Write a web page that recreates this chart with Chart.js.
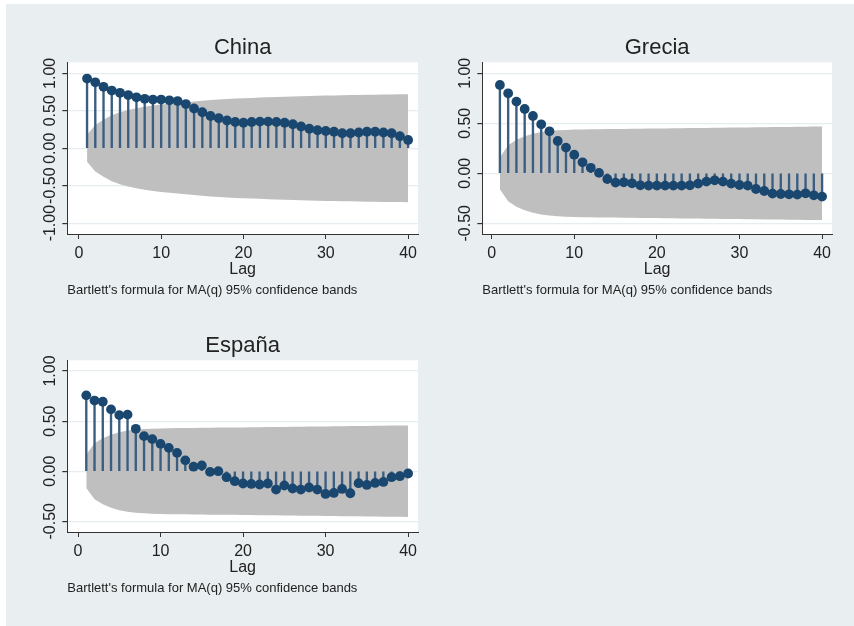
<!DOCTYPE html>
<html>
<head>
<meta charset="utf-8">
<script src="https://cdn.jsdelivr.net/npm/chart.js@4.4.1/dist/chart.umd.min.js"></script>
<style>
    html, body { margin: 0; padding: 0; background: #ffffff; }
    #fondo { position: absolute; left: 6px; top: 4px; width: 848px; height: 622px; background: #e9eef1; }
    canvas { position: absolute; }
</style>
</head>
<body>
<div id="fondo"></div>
<canvas id="chinaChart" width="430" height="290" style="left:10px;top:20px"></canvas>
<canvas id="greciaChart" width="414" height="290" style="left:440px;top:20px"></canvas>
<canvas id="espanaChart" width="430" height="290" style="left:10px;top:318px"></canvas>
<script>
// Retardos (lags) del correlograma
const lags = [1, 2, 3, 4, 5, 6, 7, 8, 9, 10, 11, 12, 13, 14, 15, 16, 17, 18, 19, 20,
              21, 22, 23, 24, 25, 26, 27, 28, 29, 30, 31, 32, 33, 34, 35, 36, 37, 38, 39, 40];
const xTicks = [0, 10, 20, 30, 40];

// Autocorrelaciones y bandas de confianza (Bartlett, 95%)
const chinaAcf = [0.93, 0.88, 0.82, 0.77, 0.74, 0.71, 0.68, 0.66, 0.65, 0.65,
                  0.64, 0.63, 0.59, 0.53, 0.48, 0.43, 0.40, 0.37, 0.35, 0.34,
                  0.35, 0.355, 0.355, 0.35, 0.34, 0.32, 0.29, 0.26, 0.24, 0.23,
                  0.22, 0.20, 0.20, 0.21, 0.22, 0.22, 0.21, 0.20, 0.16, 0.11];
const chinaBand = [0.18, 0.31, 0.38, 0.44, 0.48, 0.51, 0.535, 0.555, 0.57, 0.585,
                   0.595, 0.605, 0.615, 0.625, 0.635, 0.645, 0.652, 0.658, 0.663, 0.667,
                   0.672, 0.676, 0.68, 0.684, 0.688, 0.692, 0.695, 0.698, 0.70, 0.703,
                   0.705, 0.707, 0.709, 0.711, 0.713, 0.715, 0.717, 0.718, 0.719, 0.72];
const chinaYTicks = [-1, -0.5, 0, 0.5, 1];

const greciaAcf = [0.883, 0.80, 0.717, 0.643, 0.573, 0.49, 0.42, 0.323, 0.257, 0.186,
                   0.11, 0.055, 0.004, -0.057, -0.093, -0.09, -0.10, -0.12, -0.123, -0.123,
                   -0.123, -0.123, -0.123, -0.12, -0.103, -0.083, -0.07, -0.083, -0.103, -0.117,
                   -0.123, -0.157, -0.177, -0.203, -0.207, -0.21, -0.213, -0.20, -0.22, -0.233];
const greciaBand = [0.16, 0.28, 0.335, 0.37, 0.395, 0.412, 0.423, 0.43, 0.434, 0.437,
                    0.439, 0.44, 0.441, 0.442, 0.443, 0.444, 0.445, 0.446, 0.447, 0.448,
                    0.449, 0.45, 0.451, 0.452, 0.453, 0.454, 0.455, 0.456, 0.457, 0.458,
                    0.459, 0.46, 0.461, 0.462, 0.463, 0.464, 0.465, 0.466, 0.467, 0.468];
const greciaYTicks = [-0.5, 0, 0.5, 1];

const espanaAcf = [0.757, 0.705, 0.693, 0.617, 0.56, 0.565, 0.423, 0.35, 0.32, 0.273,
                   0.233, 0.183, 0.108, 0.045, 0.057, -0.007, 0.0, -0.06, -0.10, -0.123,
                   -0.127, -0.133, -0.123, -0.183, -0.143, -0.173, -0.183, -0.163, -0.183, -0.227,
                   -0.217, -0.177, -0.22, -0.12, -0.137, -0.117, -0.107, -0.06, -0.05, -0.023];
const espanaBand = [0.167, 0.28, 0.33, 0.365, 0.39, 0.405, 0.415, 0.42, 0.424, 0.427,
                    0.429, 0.43, 0.431, 0.432, 0.433, 0.434, 0.435, 0.435, 0.436, 0.437,
                    0.438, 0.439, 0.44, 0.441, 0.442, 0.443, 0.444, 0.445, 0.446, 0.447,
                    0.448, 0.449, 0.45, 0.451, 0.452, 0.453, 0.454, 0.455, 0.456, 0.457];
const espanaYTicks = [-0.5, 0, 0.5, 1];

const nota = "Bartlett's formula for MA(q) 95% confidence bands";

Chart.defaults.font.family = "'Liberation Sans', Arial, sans-serif";
Chart.defaults.color = '#222222';

const AZUL = '#1a476f';
const TALLO = '#3a5d80';
const BANDA = '#bfbfbf';
const EJE = '#333333';
const REJILLA = '#e6edf0';

// Fondo blanco solo dentro del área de trazado
const fondoBlanco = {
    id: 'fondoBlanco',
    beforeDraw(chart) {
        const { ctx, chartArea } = chart;
        ctx.save();
        ctx.fillStyle = '#ffffff';
        ctx.fillRect(chartArea.left, chartArea.top, chartArea.right - chartArea.left, chartArea.bottom - chartArea.top);
        ctx.restore();
    }
};

// Crea un correlograma con bandas, tallos y puntos
function createCorrelogram(id, titulo, acf, band, yMin, yMax, yTicks, xMin, yWidth) {
    const ctx = document.getElementById(id).getContext('2d');

    const upper = lags.map((l, i) => ({ x: l, y: band[i] }));
    const lower = lags.map((l, i) => ({ x: l, y: -band[i] }));
    const puntos = lags.map((l, i) => ({ x: l, y: acf[i] }));

    return new Chart(ctx, {
        type: 'scatter',
        data: {
            datasets: [
                {
                    type: 'line',
                    data: upper,
                    fill: '+1',
                    backgroundColor: BANDA,
                    borderColor: BANDA,
                    borderWidth: 0,
                    pointRadius: 0,
                    tension: 0,
                    order: 3
                },
                {
                    type: 'line',
                    data: lower,
                    fill: false,
                    borderColor: BANDA,
                    borderWidth: 0,
                    pointRadius: 0,
                    tension: 0,
                    order: 3
                },
                {
                    type: 'bar',
                    data: puntos,
                    backgroundColor: TALLO,
                    borderWidth: 0,
                    barThickness: 1.7,
                    grouped: false,
                    order: 2
                },
                {
                    type: 'scatter',
                    data: puntos,
                    backgroundColor: AZUL,
                    borderColor: AZUL,
                    borderWidth: 0,
                    pointRadius: 4.9,
                    pointHoverRadius: 4.9,
                    order: 1
                }
            ]
        },
        options: {
            responsive: false,
            animation: false,
            events: [],
            layout: {
                padding: { top: 14.8, bottom: 12.2, left: 0, right: 22 }
            },
            plugins: {
                legend: { display: false },
                tooltip: { enabled: false },
                title: {
                    display: true,
                    text: titulo,
                    fullSize: false,
                    font: { size: 22, weight: 'normal' },
                    color: '#222222',
                    padding: { top: 0, bottom: 1.1 }
                },
                subtitle: {
                    display: true,
                    text: nota,
                    position: 'bottom',
                    align: 'start',
                    fullSize: false,
                    font: { size: 13 },
                    color: '#222222',
                    padding: { top: 3.2, bottom: 0 }
                }
            },
            scales: {
                x: {
                    type: 'linear',
                    min: xMin,
                    max: 41.2,
                    offset: false,
                    afterBuildTicks: scale => { scale.ticks = xTicks.map(v => ({ value: v })); },
                    afterFit: scale => { scale.height = 45; },
                    grid: {
                        offset: false,
                        drawOnChartArea: false,
                        drawTicks: true,
                        tickLength: 5,
                        tickColor: EJE
                    },
                    border: { display: true, color: EJE, width: 1 },
                    ticks: {
                        font: { size: 16 },
                        color: '#222222',
                        padding: 4.6,
                        maxRotation: 0
                    },
                    title: {
                        display: true,
                        text: 'Lag',
                        font: { size: 16 },
                        color: '#222222',
                        padding: { top: 0, bottom: 0 }
                    }
                },
                y: {
                    type: 'linear',
                    min: yMin,
                    max: yMax,
                    afterBuildTicks: scale => { scale.ticks = yTicks.map(v => ({ value: v })); },
                    afterFit: scale => { scale.width = yWidth; },
                    grid: {
                        color: REJILLA,
                        lineWidth: 1.2,
                        drawTicks: true,
                        tickLength: 5,
                        tickColor: EJE
                    },
                    border: { display: true, color: EJE, width: 1 },
                    ticks: {
                        font: { size: 16 },
                        color: '#222222',
                        minRotation: 90,
                        maxRotation: 90,
                        crossAlign: 'center',
                        padding: -6.7,
                        callback: v => v.toFixed(2)
                    }
                }
            }
        },
        plugins: [fondoBlanco]
    });
}

createCorrelogram('chinaChart', 'China', chinaAcf, chinaBand, -1.145, 1.147, chinaYTicks, -1.4, 57.3);
createCorrelogram('greciaChart', 'Grecia', greciaAcf, greciaBand, -0.607, 1.11, greciaYTicks, -1.13, 42.3);
createCorrelogram('espanaChart', 'España', espanaAcf, espanaBand, -0.607, 1.107, espanaYTicks, -1.3, 57.3);
</script>
</body>
</html>
